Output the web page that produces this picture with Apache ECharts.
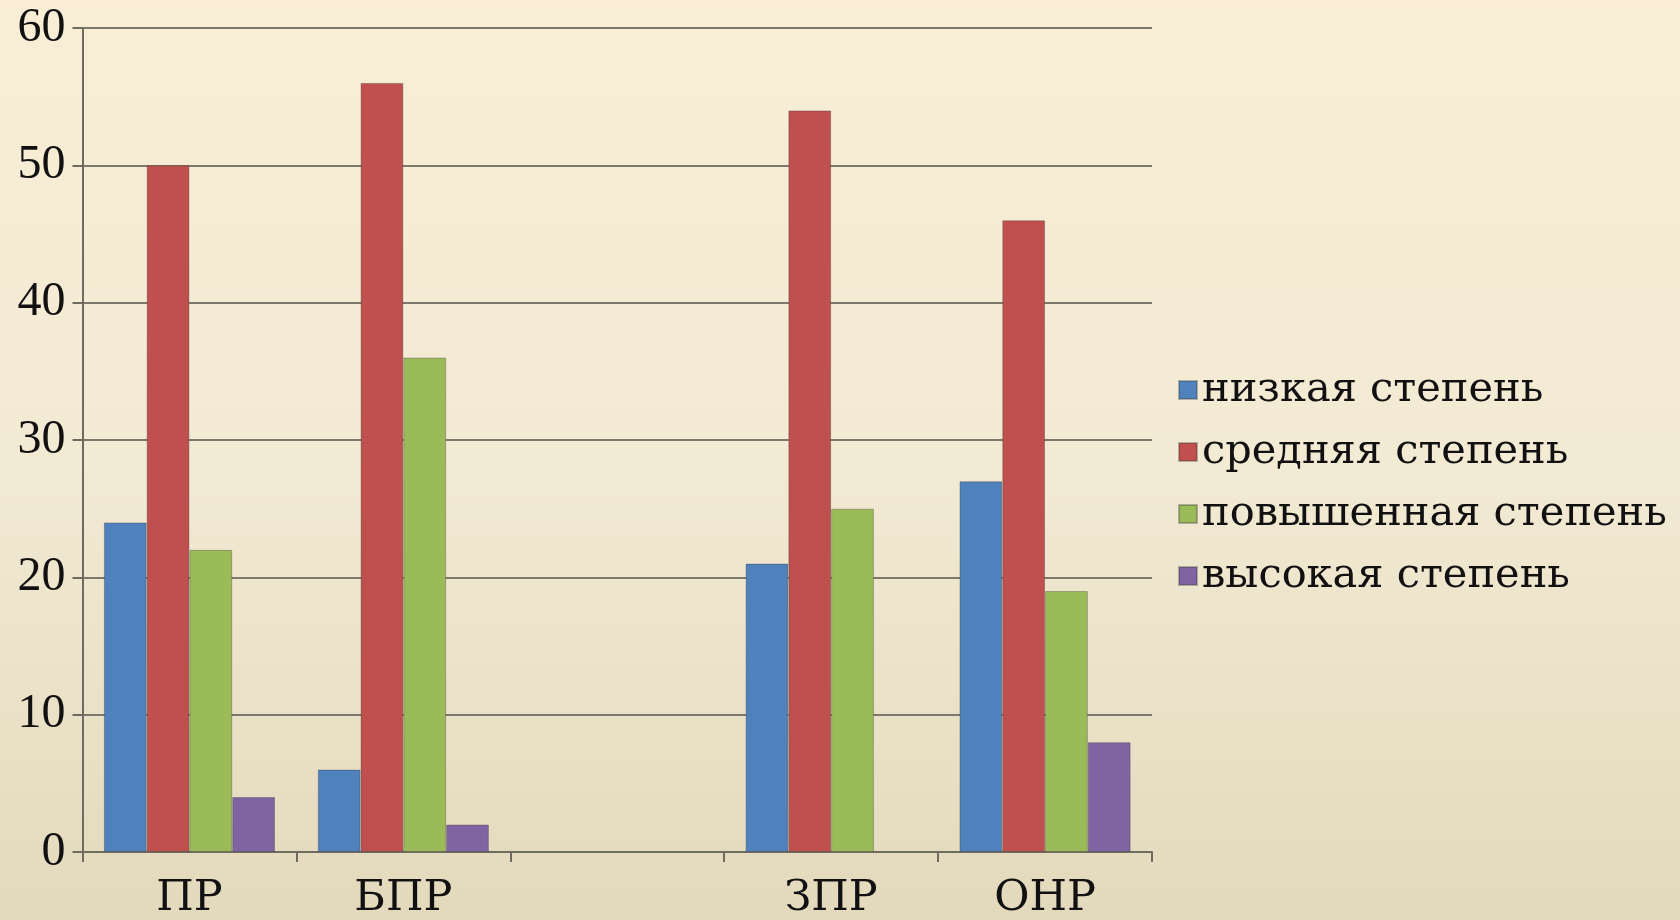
<!DOCTYPE html>
<html>
<head>
<meta charset="utf-8">
<script src="https://cdn.jsdelivr.net/npm/echarts@6/dist/echarts.min.js"></script>
<style>
html,body{margin:0;padding:0;width:1680px;height:920px;overflow:hidden;}
#c{width:1680px;height:920px;}
</style>
</head>
<body>
<div id="c"></div>
<script>
const categories = ['ПР', 'БПР', '', 'ЗПР', 'ОНР'];
const seriesNames = ['низкая степень', 'средняя степень', 'повышенная степень', 'высокая степень'];
const lowValues = [24, 6, null, 21, 27];
const midValues = [50, 56, null, 54, 46];
const raisedValues = [22, 36, null, 25, 19];
const highValues = [4, 2, null, null, 8];
const yTicks = [0, 10, 20, 30, 40, 50, 60];

const colors = ['#4F81BD', '#C0504D', '#9BBB59', '#8064A2'];
const values = [lowValues, midValues, raisedValues, highValues];
const numFont = '"Liberation Serif", serif';
const cyrFont = '"DejaVu Serif", serif';

const chart = echarts.init(document.getElementById('c'));
chart.setOption({
  backgroundColor: {
    type: 'linear', x: 0, y: 0, x2: 0, y2: 1,
    colorStops: [{offset: 0, color: '#F9EED5'}, {offset: 0.5, color: '#F3EAD4'}, {offset: 1, color: '#E3D9BC'}]
  },
  animation: false,
  color: colors,
  grid: {left: 82.5, right: 528, top: 28, bottom: 65, containLabel: false},
  legend: {
    orient: 'vertical',
    left: 1173,
    top: 360,
    itemWidth: 18,
    itemHeight: 18,
    itemGap: 12,
    icon: 'rect',
    textStyle: {fontFamily: cyrFont, fontSize: 41.5, color: '#111', lineHeight: 50},
    data: seriesNames
  },
  xAxis: {
    type: 'category',
    data: categories,
    boundaryGap: true,
    axisLine: {lineStyle: {color: '#6f6b60', width: 2}},
    axisTick: {show: true, length: 10, interval: 0, lineStyle: {color: '#6f6b60', width: 2}},
    axisLabel: {interval: 0, margin: 25, fontFamily: cyrFont, fontSize: 43, color: '#111'},
    splitLine: {show: false}
  },
  yAxis: {
    type: 'value',
    min: yTicks[0],
    max: yTicks[yTicks.length - 1],
    interval: 10,
    axisLine: {show: true, lineStyle: {color: '#6f6b60', width: 2}},
    axisTick: {show: true, length: 10, lineStyle: {color: '#6f6b60', width: 2}},
    axisLabel: {margin: 17, fontFamily: numFont, fontSize: 48, color: '#111'},
    splitLine: {show: true, lineStyle: {color: '#7d786c', width: 2}}
  },
  series: seriesNames.map((name, i) => ({
    name: name,
    type: 'bar',
    data: values[i],
    barGap: '0%',
    barCategoryGap: '20%',
    itemStyle: {color: colors[i], borderColor: 'rgba(60,60,60,0.35)', borderWidth: 1}
  }))
});
</script>
</body>
</html>
